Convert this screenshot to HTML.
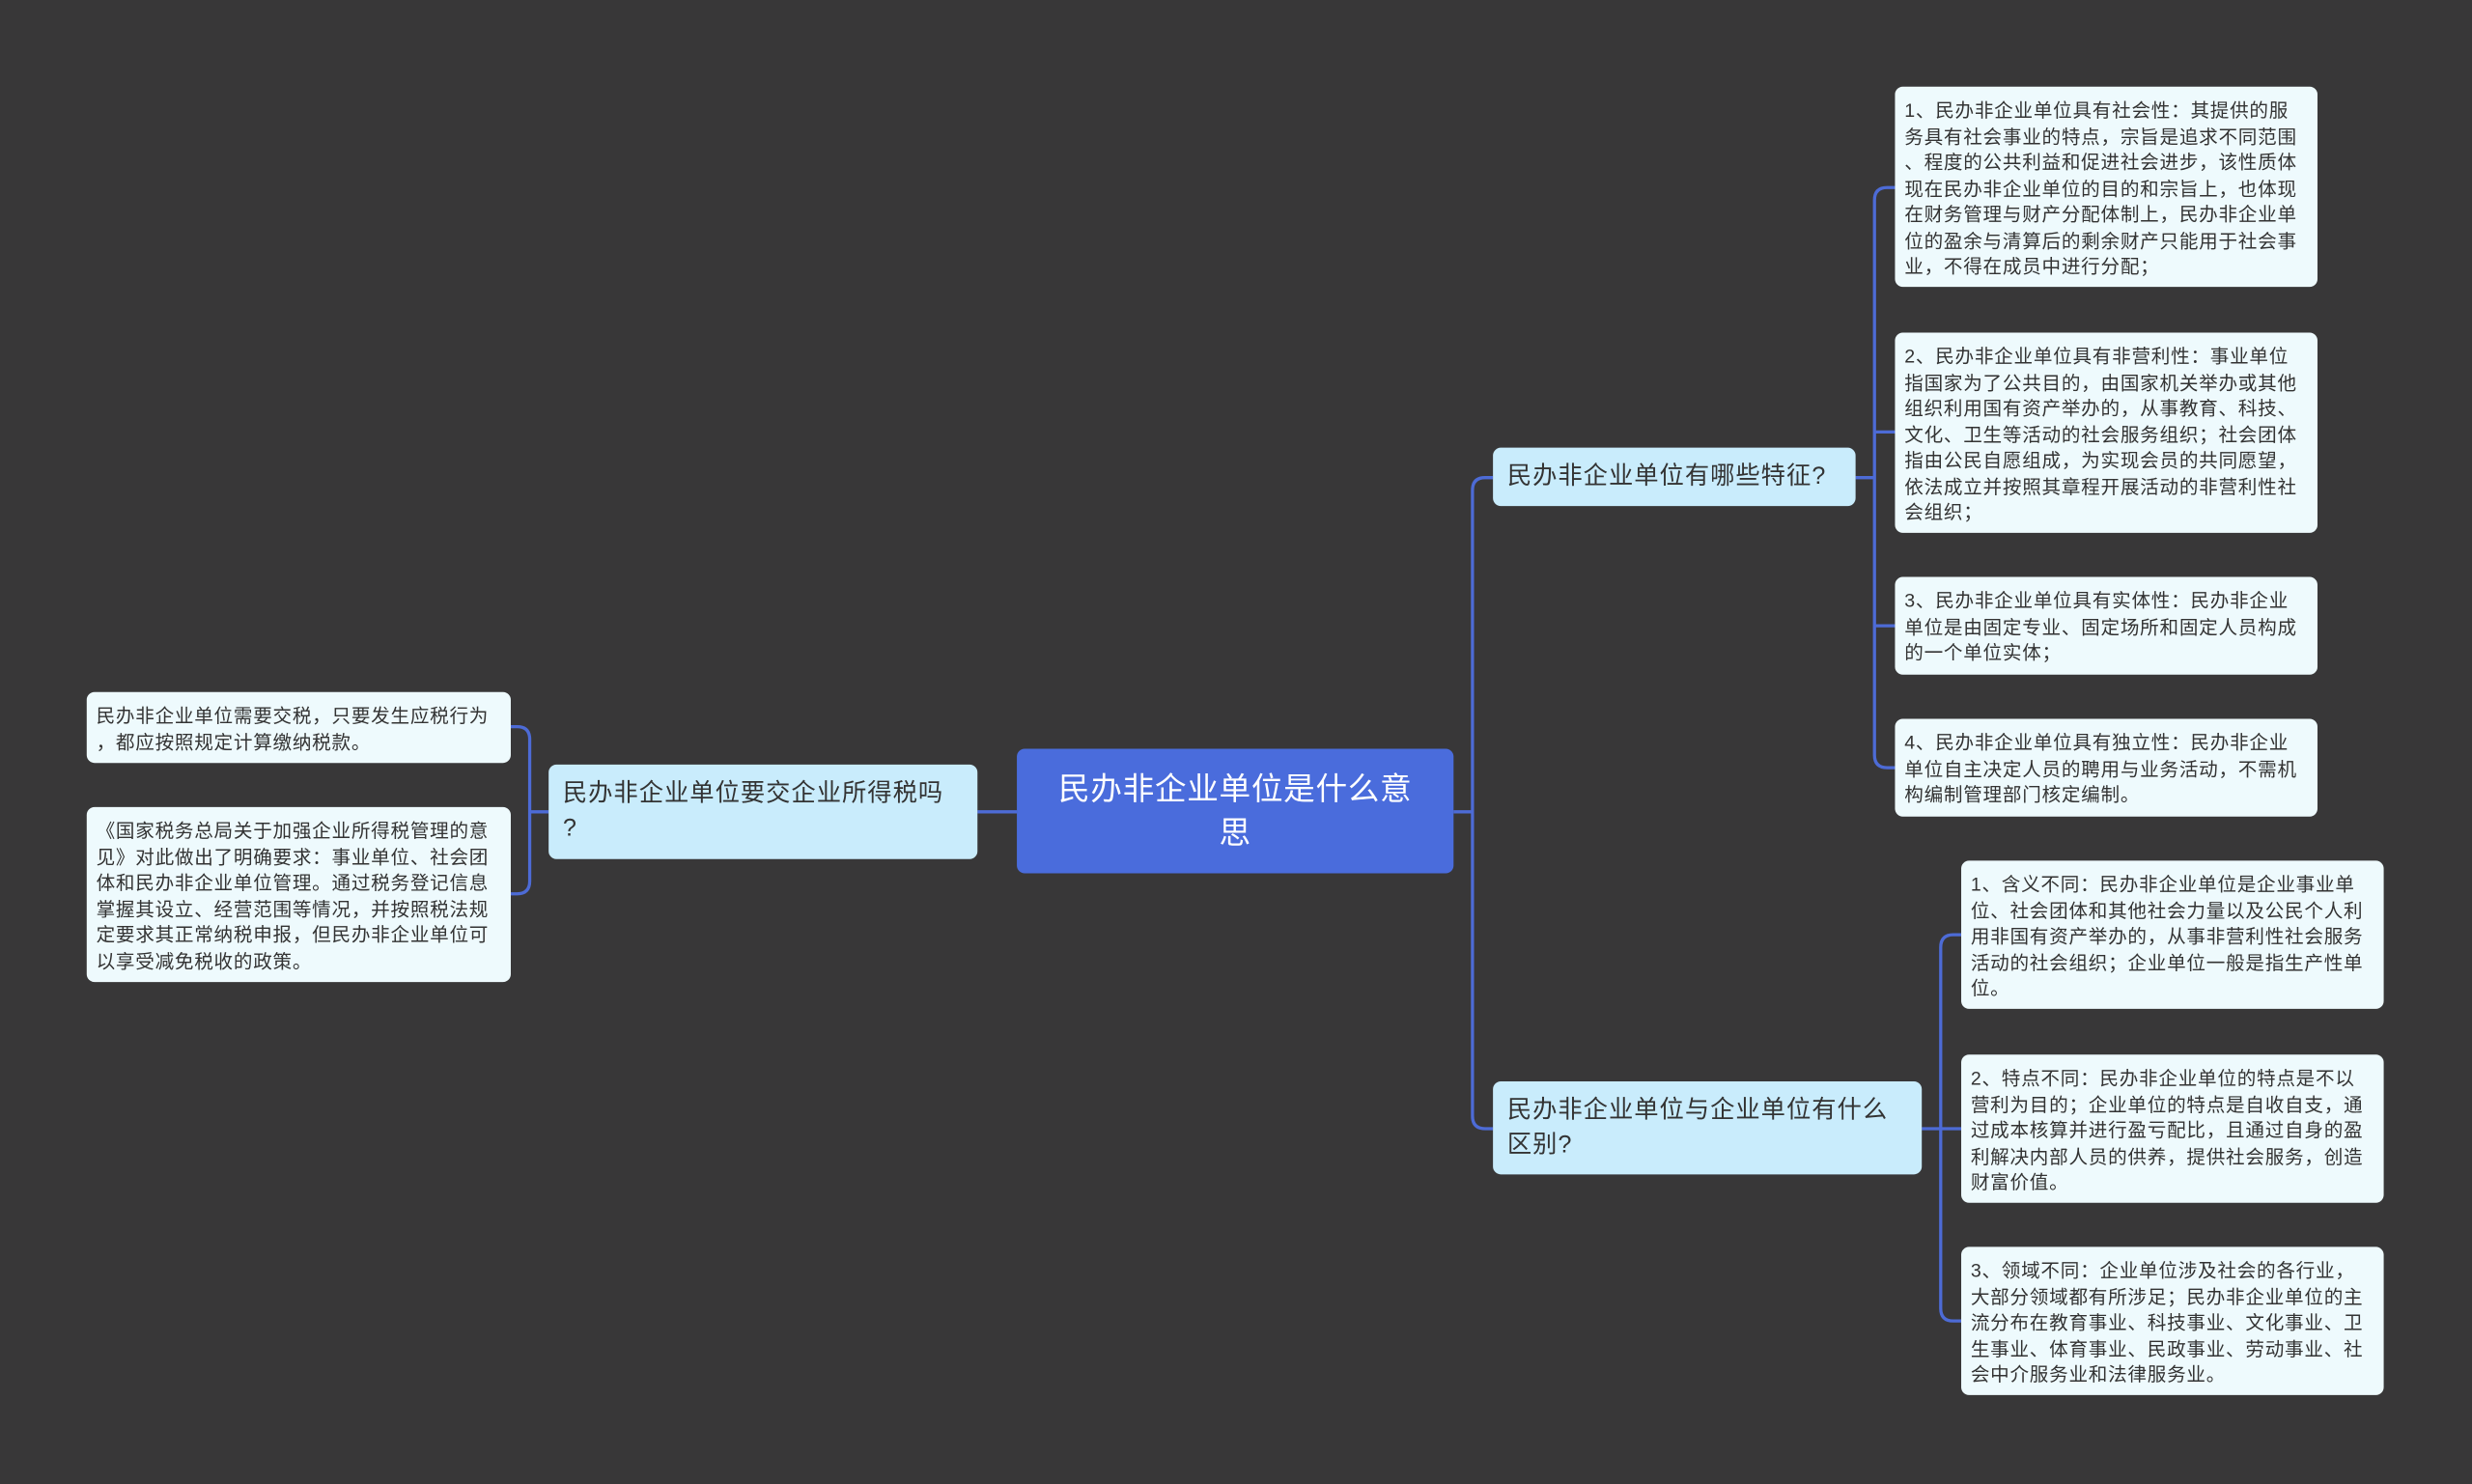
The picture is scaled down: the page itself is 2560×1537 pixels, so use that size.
<!DOCTYPE html>
<html><head><meta charset="utf-8"><style>
html,body{margin:0;padding:0;background:#383738;}
body{width:2560px;height:1537px;overflow:hidden;position:relative;}
#s{position:absolute;left:0;top:0;width:1568px;height:941px;transform:scale(1.63265);transform-origin:0 0;font-family:"Liberation Sans","Noto Sans CJK SC",sans-serif;}
.n{position:absolute;box-sizing:border-box;border-radius:5px;white-space:nowrap;}
.leaf{background:#eefafd;color:#333;font-size:12px;letter-spacing:0.45px;line-height:16.5px;padding:7px 6px 6px 6px;}
.br{background:#c9ecfc;color:#333;font-size:15.5px;letter-spacing:0.6px;line-height:22px;padding:8px 9px 7px 9px;}
.c{background:#4a6cdc;color:#fff;font-size:20px;letter-spacing:0.4px;line-height:28px;text-align:center;padding:12px 8px 8px 8px;}
svg{position:absolute;left:0;top:0;}
</style></head><body><div id="s">
<svg width="1568" height="941" fill="none" stroke="#4d6bd6" stroke-width="2">
<path d="M922 515 H934"/>
<path d="M947 303 H942 Q934 303 934 311 V708 Q934 716 942 716 H947"/>
<path d="M620 515 H645"/>
<path d="M348 515 H336"/>
<path d="M324 461 H328 Q336 461 336 469 V559 Q336 567 328 567 H324"/>
<path d="M1177 303 H1189"/>
<path d="M1202 119 H1197 Q1189 119 1189 127 V479 Q1189 487 1197 487 H1202"/>
<path d="M1189 274 H1202 M1189 397 H1202"/>
<path d="M1219 716 H1231"/>
<path d="M1244 593 H1239 Q1231 593 1231 601 V830 Q1231 838 1239 838 H1244"/>
<path d="M1231 716 H1244"/>
</svg>
<div class="n c" style="left:645px;top:475px;width:277px;height:79px;">民办非企业单位是什么意<br>思</div>
<div class="n br" style="left:947px;top:284px;width:230px;height:37px;">民办非企业单位有哪些特征?</div>
<div class="n br" style="left:947px;top:686px;width:272px;height:59px;">民办非企业单位与企业单位有什么<br>区别?</div>
<div class="n br" style="left:348px;top:485px;width:272px;height:60px;">民办非企业单位要交企业所得税吗<br>?</div>
<div class="n leaf" style="left:1202px;top:55px;width:268px;height:127px;">1、民办非企业单位具有社会性：其提供的服<br>务具有社会事业的特点，宗旨是追求不同范围<br>、程度的公共利益和促进社会进步，该性质体<br>现在民办非企业单位的目的和宗旨上，也体现<br>在财务管理与财产分配体制上，民办非企业单<br>位的盈余与清算后的剩余财产只能用于社会事<br>业，不得在成员中进行分配；</div>
<div class="n leaf" style="left:1202px;top:211px;width:268px;height:127px;">2、民办非企业单位具有非营利性：事业单位<br>指国家为了公共目的，由国家机关举办或其他<br>组织利用国有资产举办的，从事教育、科技、<br>文化、卫生等活动的社会服务组织；社会团体<br>指由公民自愿组成，为实现会员的共同愿望，<br>依法成立并按照其章程开展活动的非营利性社<br>会组织；</div>
<div class="n leaf" style="left:1202px;top:366px;width:268px;height:62px;">3、民办非企业单位具有实体性：民办非企业<br>单位是由固定专业、固定场所和固定人员构成<br>的一个单位实体；</div>
<div class="n leaf" style="left:1202px;top:456px;width:268px;height:62px;">4、民办非企业单位具有独立性：民办非企业<br>单位自主决定人员的聘用与业务活动，不需机<br>构编制管理部门核定编制。</div>
<div class="n leaf" style="left:1244px;top:546px;width:268px;height:94px;">1、含义不同：民办非企业单位是企业事业单<br>位、社会团体和其他社会力量以及公民个人利<br>用非国有资产举办的，从事非营利性社会服务<br>活动的社会组织；企业单位一般是指生产性单<br>位。</div>
<div class="n leaf" style="left:1244px;top:669px;width:268px;height:94px;">2、特点不同：民办非企业单位的特点是不以<br>营利为目的；企业单位的特点是自收自支，通<br>过成本核算并进行盈亏配比，且通过自身的盈<br>利解决内部人员的供养，提供社会服务，创造<br>财富价值。</div>
<div class="n leaf" style="left:1244px;top:791px;width:268px;height:94px;">3、领域不同：企业单位涉及社会的各行业，<br>大部分领域都有所涉足；民办非企业单位的主<br>流分布在教育事业、科技事业、文化事业、卫<br>生事业、体育事业、民政事业、劳动事业、社<br>会中介服务业和法律服务业。</div>
<div class="n leaf" style="left:55px;top:439px;width:269px;height:45px;">民办非企业单位需要交税，只要发生应税行为<br>，都应按照规定计算缴纳税款。</div>
<div class="n leaf" style="left:55px;top:512px;width:269px;height:111px;">《国家税务总局关于加强企业所得税管理的意<br>见》对此做出了明确要求：事业单位、社会团<br>体和民办非企业单位管理。通过税务登记信息<br>掌握其设立、经营范围等情况，并按照税法规<br>定要求其正常纳税申报，但民办非企业单位可<br>以享受减免税收的政策。</div>
</div></body></html>
